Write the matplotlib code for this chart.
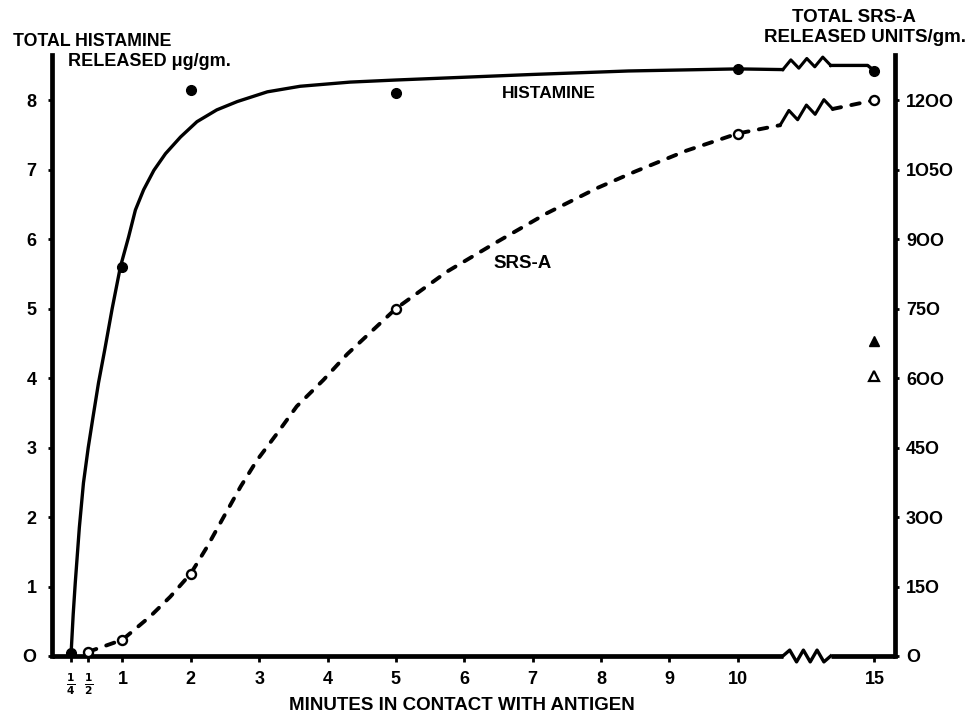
import matplotlib
matplotlib.use('Agg')
import matplotlib.pyplot as plt
import numpy as np

plt.rcParams['font.family'] = ['Liberation Sans', 'DejaVu Sans']
plt.rcParams['font.weight'] = 'bold'

# ---- data (minutes, histamine ug/gm, SRS-A units/gm) ----
hist_t = [0.25, 1, 2, 5, 10, 15]
hist_v = [0.05, 5.6, 8.15, 8.1, 8.45, 8.42]
srs_t = [0.5, 1, 2, 5, 10, 15]
srs_v = [8, 35, 178, 750, 1128, 1200]
tri_t = [15]
tri_filled_v = [680]
tri_open_v = [605]

# smooth fitted curves
hist_curve_t = [0.25, 0.28, 0.31, 0.37, 0.43, 0.5, 0.57, 0.65, 0.74, 0.85, 0.97,
                1.09, 1.19, 1.31, 1.46, 1.63, 1.85, 2.09, 2.38, 2.68, 3.12,
                3.6, 4.33, 5.0, 6.0, 7.0, 8.4, 10.0, 11.65]
hist_curve_v = [0.05, 0.6, 1.05, 1.85, 2.49, 3.0, 3.44, 3.93, 4.4, 5.0, 5.6,
                6.03, 6.42, 6.71, 6.99, 7.23, 7.47, 7.69, 7.86, 7.98, 8.12,
                8.2, 8.26, 8.29, 8.33, 8.37, 8.42, 8.45, 8.44]
hist_after_t = [13.4, 14.75, 15]
hist_after_v = [8.5, 8.5, 8.42]

srs_curve_t = [0.5, 1.0, 1.41, 1.70, 2.0, 2.24, 2.48, 2.73, 2.97, 3.26, 3.55, 3.94,
               4.29, 5.0, 5.75, 6.48, 7.21, 7.94, 8.5, 9.25, 10.0, 11.55]
srs_curve_v = [9, 35, 86, 128, 178, 236, 300, 366, 423, 480, 539, 596,
               652, 750, 830, 894, 956, 1010, 1046, 1091, 1128, 1146]
srs_after_t = [13.47, 15]
srs_after_v = [1181, 1200]

x_ticks = [0.25, 0.5, 1, 2, 3, 4, 5, 6, 7, 8, 9, 10, 15]
x_ticklabels = [r'$\frac{1}{4}$', r'$\frac{1}{2}$', '1', '2', '3', '4', '5', '6',
                '7', '8', '9', '10', '15']
y_left_ticks = [0, 1, 2, 3, 4, 5, 6, 7, 8]
y_right_ticks = [0, 150, 300, 450, 600, 750, 900, 1050, 1200]


def fwd(x):
    x = np.asarray(x, float)
    return np.where(x <= 10, x, 10 + (x - 10) * 0.4)


def inv(x):
    x = np.asarray(x, float)
    return np.where(x <= 10, x, 10 + (x - 10) / 0.4)


def zigzag(ax, t0, t1, v0, v1, offsets, **kw):
    n = len(offsets)
    ts = np.linspace(t0, t1, n)
    vs = np.linspace(v0, v1, n) + np.asarray(offsets)
    ax.plot(ts, vs, **kw)


W, H = 969, 717
fig = plt.figure(figsize=(W / 100, H / 100), dpi=100)
ax = fig.add_axes([52 / W, 1 - 656 / H, (895 - 52) / W, (656 - 55) / H])
ax.set_xscale('function', functions=(fwd, inv))
ax.set_xlim(-0.03, float(inv(12.3)))
ax.set_ylim(0, 8.65)
ax2 = ax.twinx()
ax2.set_ylim(0, 8.65 * 150)

for s in ['top', 'right', 'bottom']:
    ax.spines[s].set_visible(False)
for s in ['top', 'left', 'bottom']:
    ax2.spines[s].set_visible(False)
ax.spines['left'].set_linewidth(3.4)
ax2.spines['right'].set_linewidth(3.4)

# bottom axis line with break
lw_ax = 3.4
ax.plot([-0.03, 11.65], [0, 0], color='black', lw=lw_ax, clip_on=False,
        solid_capstyle='butt')
ax.plot([13.4, float(inv(12.3))], [0, 0], color='black', lw=lw_ax, clip_on=False,
        solid_capstyle='butt')
a = 0.085
zigzag(ax, 11.65, 13.4, 0, 0, [0, a, -a, a, -a, a, -a, 0], color='black',
       lw=2.4, clip_on=False)

# ticks
ax.set_xticks(x_ticks)
ax.set_xticklabels(x_ticklabels)
ax.set_xticks([], minor=True)
ax.set_yticks(y_left_ticks)
ax.set_yticklabels([str(v) if v else 'O' for v in y_left_ticks])
ax2.set_yticks(y_right_ticks)
ax2.set_yticklabels([str(v).replace('0', 'O') if v else 'O' for v in y_right_ticks])
ax.tick_params(axis='x', direction='out', length=4, width=2, pad=7, labelsize=13)
ax.tick_params(axis='y', direction='out', length=3, width=2, pad=8, labelsize=13)
ax2.tick_params(axis='y', direction='out', length=3, width=2, pad=5, labelsize=13)
for lab in ax.get_xticklabels()[:2]:
    lab.set_fontsize(11)

# histamine curve
ax.plot(hist_curve_t, hist_curve_v, color='black', lw=2.4, solid_capstyle='round',
        solid_joinstyle='round')
ah = 0.13
zigzag(ax, 11.65, 13.4, 8.44, 8.5, [0, ah, 0, ah, 0, ah, 0], color='black', lw=2.2)
ax.plot(hist_after_t, hist_after_v, color='black', lw=2.4)
ax.plot(hist_t, hist_v, 'o', color='black', ms=7, zorder=5)

# SRS-A curve
ax2.plot(srs_curve_t, srs_curve_v, color='black', lw=2.8, dashes=(2.2, 2.7),
         dash_capstyle='round')
asr = 26
zigzag(ax2, 11.55, 13.47, 1146, 1181, [0, asr, 0, asr, 0, asr, 0], color='black', lw=2.2)
ax2.plot(srs_after_t, srs_after_v, color='black', lw=2.8, dashes=(2.2, 2.7),
         dash_capstyle='round')
ax2.plot(srs_t, srs_v, 'o', mfc='white', mec='black', mew=1.7, ms=6.5, zorder=5)
ax2.plot(tri_t, tri_filled_v, '^', color='black', ms=7.5, zorder=5)
ax2.plot(tri_t, tri_open_v, '^', mfc='white', mec='black', mew=1.6, ms=6.5, zorder=5)

# labels
ax.text(7.24, 8.10, 'HISTAMINE', ha='center', va='center', fontsize=12.5,
        fontweight='bold')
ax.text(6.86, 5.65, 'SRS-A', ha='center', va='center', fontsize=13.5,
        fontweight='bold')
fig.text(13 / W, 1 - 41 / H, 'TOTAL HISTAMINE', ha='left', va='center',
         fontsize=12.8, fontweight='bold')
fig.text(68 / W, 1 - 62 / H, 'RELEASED μg/gm.', ha='left', va='center',
         fontsize=13, fontweight='bold')
fig.text(854 / W, 1 - 18 / H, 'TOTAL SRS-A', ha='center', va='center',
         fontsize=13.5, fontweight='bold')
fig.text(865 / W, 1 - 37 / H, 'RELEASED UNITS/gm.', ha='center', va='center',
         fontsize=13.5, fontweight='bold')
fig.text(462 / W, 1 - 706 / H, 'MINUTES IN CONTACT WITH ANTIGEN', ha='center',
         va='center', fontsize=13.5, fontweight='bold')

fig.savefig('out.png', dpi=100)
